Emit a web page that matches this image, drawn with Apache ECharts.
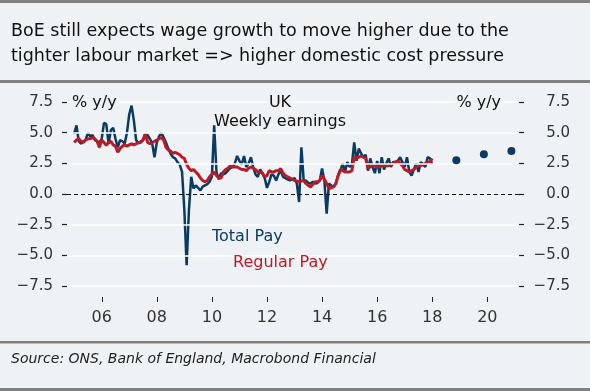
<!DOCTYPE html>
<html>
<head>
<meta charset="utf-8">
<script src="https://cdn.jsdelivr.net/npm/echarts@6/dist/echarts.min.js"></script>
<style>
html,body{margin:0;padding:0;background:#eef2f4;}
#c{width:590px;height:391px;}
</style>
</head>
<body>
<div id="c"></div>
<script>
// Monthly data, Jan 2005 .. Jan 2018 (% y/y)
var startYear = 2005;
var totalPay = [
 4.9,5.6,4.3,4.1,4.3,4.4,5.0,4.7,4.8,4.4,4.3,4.2,
 4.5,5.8,5.7,4.1,5.2,5.4,4.5,3.8,4.4,4.3,4.1,5.0,
 6.5,7.2,6.0,4.4,4.1,4.3,4.4,4.9,4.8,4.5,4.1,3.0,
 4.2,4.7,5.0,4.6,4.2,3.7,3.3,3.0,2.9,2.6,2.4,1.8,
 -1.3,-5.8,-1.3,1.4,0.44,0.7,0.5,0.3,0.6,0.7,0.8,1.0,
 1.4,5.6,1.8,1.2,1.7,1.6,1.7,1.9,2.1,2.2,2.5,3.1,
 2.7,2.4,3.1,2.2,2.5,3.0,2.2,1.6,1.4,2.0,1.7,1.3,
 0.5,1.0,1.6,1.5,1.1,1.6,1.9,1.4,1.3,1.2,1.1,1.2,
 1.3,0.85,-0.65,3.8,1.1,1.1,0.9,0.85,1.0,0.85,0.9,1.1,
 2.07,1.1,-1.6,0.85,0.7,0.57,0.85,1.5,1.9,2.5,1.8,2.6,
 2.2,2.4,4.2,2.7,3.7,3.3,3.0,3.2,1.9,2.9,2.2,1.7,
 2.7,1.7,3.0,2.0,2.5,2.9,2.2,2.6,2.6,2.7,3.0,2.6,
 2.2,3.0,1.8,1.5,2.0,2.5,1.8,2.6,2.4,2.2,3.0,2.9,
 2.4
];
var regularPay = [
 4.2,4.4,4.5,4.3,4.2,4.4,4.5,4.5,4.6,4.5,4.3,3.8,
 4.4,4.2,3.97,4.2,4.3,4.0,3.9,3.4,3.7,3.9,4.0,3.9,
 4.0,4.1,4.0,4.1,4.2,4.2,4.4,4.9,4.2,4.1,4.2,4.3,
 4.4,4.5,4.6,4.4,3.8,3.6,3.5,3.3,3.4,3.3,3.2,3.0,
 2.9,2.4,2.1,1.9,2.0,1.8,1.6,1.3,1.1,1.0,1.1,1.4,
 1.6,1.8,1.5,1.3,1.3,1.8,2.0,2.1,2.3,2.2,2.2,2.2,
 2.1,2.0,2.0,1.9,2.1,2.2,2.1,2.0,1.8,1.8,1.7,1.4,
 1.5,1.9,1.8,1.8,1.9,1.9,2.07,1.7,1.5,1.4,1.3,1.2,
 1.1,1.05,1.0,1.05,1.1,0.85,0.7,0.57,0.8,1.0,1.0,1.1,
 1.5,1.2,0.85,0.44,0.5,0.6,0.85,1.5,2.0,1.9,1.8,1.8,
 1.8,1.9,3.0,2.9,3.0,3.1,3.0,2.9,2.1,2.2,2.3,2.3,
 2.2,2.2,2.3,2.3,2.3,2.3,2.4,2.5,2.6,2.7,2.5,2.3,
 2.0,1.9,1.8,1.9,2.0,2.2,2.3,2.3,2.4,2.5,2.6,2.6,
 2.9
];
// BoE projections
var forecastYears = [2018.875, 2019.875, 2020.875];
var forecastValues = [2.75, 3.25, 3.5];
var xTickYears = [2006, 2008, 2010, 2012, 2014, 2016, 2018, 2020];
var yGridValues = [-7.5, -5, -2.5, 2.5, 5, 7.5];

var BLUE = '#0b3b60', RED = '#b71c28', BG = '#eef2f4';
var FONT = '"DejaVu Sans", sans-serif';
var Y_MIN = -7.5, Y_MAX = 7.5;

function toXY(arr){ return arr.map(function(v,i){ return [startYear + i/12, v]; }); }
function yFmt(v){ return (v < 0 ? '\u2212' + Math.abs(v).toFixed(1) : v.toFixed(1)); }

var chart = echarts.init(document.getElementById('c'), null, {renderer:'canvas'});
chart.setOption({
  backgroundColor: BG,
  animation: false,
  grid: {left: 67, right: 71, top: 102, bottom: 105, containLabel: false},
  xAxis: {
    type: 'value', min: 2004.74, max: 2021.15, offset: 11, position: 'bottom',
    axisLine: {show: false, onZero: false},
    splitLine: {show: false},
    axisTick: {show: false},
    axisLabel: {customValues: xTickYears, margin: 13, color: '#333', fontFamily: FONT, fontSize: 16,
      formatter: function(v){ return ('0' + Math.round(v % 100)).slice(-2); }}
  },
  yAxis: [{
    type: 'value', position: 'left', min: Y_MIN, max: Y_MAX, interval: 2.5,
    axisLine: {show: false, onZero: false},
    axisTick: {show: true, length: 5, lineStyle: {color: '#222', width: 1.2}},
    splitLine: {show: false},
    axisLabel: {margin: 14, color: '#333', fontFamily: FONT, fontSize: 15, formatter: yFmt}
  }, {
    type: 'value', position: 'right', min: Y_MIN, max: Y_MAX, interval: 2.5,
    axisLine: {show: false, onZero: false},
    axisTick: {show: true, length: 5, lineStyle: {color: '#222', width: 1.2}},
    splitLine: {show: false},
    axisLabel: {margin: 51, align: 'right', color: '#333', fontFamily: FONT, fontSize: 15, formatter: yFmt}
  }],
  series: [{
    // white horizontal gridlines and dashed zero line
    name: 'grid', type: 'line', data: [], z: 1, silent: true,
    markLine: {silent: true, symbol: 'none', label: {show: false}, animation: false,
      data: yGridValues.map(function(v){ return {yAxis: v, lineStyle: {color: '#ffffff', width: 1.5, type: 'solid'}}; })
        .concat([{yAxis: 0, lineStyle: {color: '#111', width: 1, type: [4, 3]}}])}
  }, {
    // x-axis tick marks below the plot
    name: 'xticks', type: 'custom', silent: true, z: 2, clip: false,
    data: xTickYears.map(function(y){ return [y, Y_MIN]; }),
    encode: {x: 0, y: 1},
    renderItem: function(params, api){
      var p = api.coord([api.value(0), api.value(1)]);
      var x = Math.round(p[0]) + 0.5;
      return {type: 'line', shape: {x1: x, y1: p[1] + 11, x2: x, y2: p[1] + 16},
        style: {stroke: '#222', lineWidth: 1}};
    }
  }, {
    name: 'Total Pay', type: 'line', data: toXY(totalPay), showSymbol: false,
    lineStyle: {color: BLUE, width: 2.5}, itemStyle: {color: BLUE}, z: 3
  }, {
    name: 'Regular Pay', type: 'line', data: toXY(regularPay), showSymbol: false,
    lineStyle: {color: RED, width: 3}, itemStyle: {color: RED}, z: 4
  }, {
    name: 'Forecast', type: 'scatter', symbolSize: 8,
    data: forecastYears.map(function(y,i){ return [y, forecastValues[i]]; }),
    itemStyle: {color: BLUE, opacity: 1}, z: 5
  }],
  graphic: [
    {type: 'rect', shape: {x: 0, y: 0, width: 590, height: 3}, style: {fill: '#808080'}},
    {type: 'rect', shape: {x: 0, y: 80, width: 590, height: 3}, style: {fill: '#808080'}},
    {type: 'rect', shape: {x: 0, y: 341, width: 590, height: 2.5}, style: {fill: '#808080'}},
    {type: 'rect', shape: {x: 0, y: 388, width: 590, height: 3}, style: {fill: '#808080'}},
    {type: 'text', left: 11, top: 22, style: {text: 'BoE still expects wage growth to move higher due to the', fill: '#111', font: '17.5px ' + FONT}},
    {type: 'text', left: 11, top: 47, style: {text: 'tighter labour market => higher domestic cost pressure', fill: '#111', font: '17.5px ' + FONT}},
    {type: 'text', left: 11, top: 352, style: {text: 'Source: ONS, Bank of England, Macrobond Financial', fill: '#222', font: 'oblique 14px ' + FONT}},
    {type: 'text', x: 71, y: 103, z: 10, style: {text: '% y/y', fill: '#111', font: '16px ' + FONT, textVerticalAlign: 'middle', backgroundColor: BG, padding: [0, 1]}},
    {type: 'text', x: 502, y: 103, z: 10, style: {text: '% y/y', fill: '#111', font: '16px ' + FONT, textAlign: 'right', textVerticalAlign: 'middle', backgroundColor: BG, padding: [0, 1]}},
    {type: 'text', x: 280, y: 103, z: 10, style: {text: 'UK', fill: '#111', font: '16px ' + FONT, textAlign: 'center', textVerticalAlign: 'middle', backgroundColor: BG, padding: [0, 1]}},
    {type: 'text', x: 280, y: 122, z: 10, style: {text: 'Weekly earnings', fill: '#111', font: '16px ' + FONT, textAlign: 'center', textVerticalAlign: 'middle'}},
    {type: 'text', x: 212, y: 237, z: 10, style: {text: 'Total Pay', fill: BLUE, font: '16px ' + FONT, textVerticalAlign: 'middle'}},
    {type: 'text', x: 233, y: 263, z: 10, style: {text: 'Regular Pay', fill: RED, font: '16px ' + FONT, textVerticalAlign: 'middle'}}
  ]
});
</script>
</body>
</html>
